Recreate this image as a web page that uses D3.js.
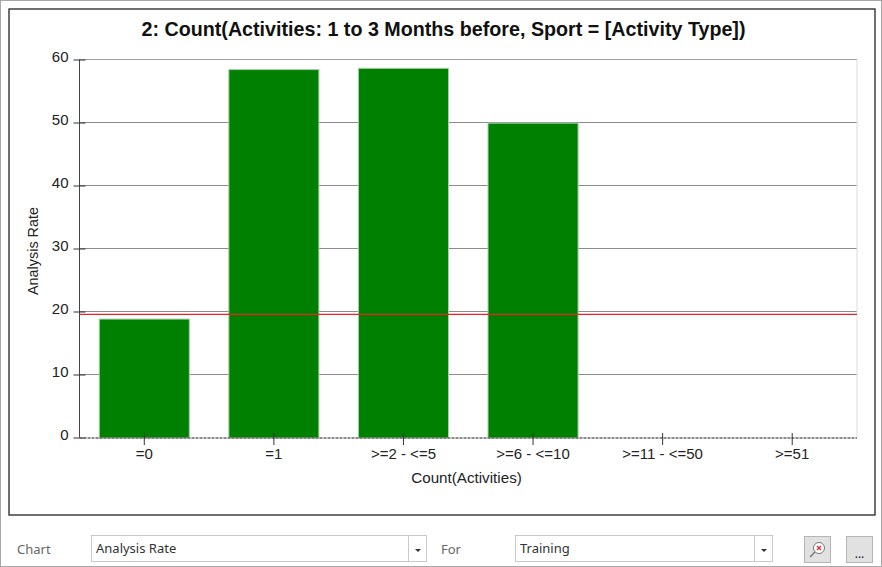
<!DOCTYPE html>
<html><head><meta charset="utf-8">
<script src="https://cdn.jsdelivr.net/npm/d3@7"></script>
<style>html,body{margin:0;padding:0;background:#fff;overflow:hidden}svg{display:block}</style>
</head><body><svg id="c" width="882" height="567"></svg>
<script>
const categories = ["=0","=1",">=2 - <=5",">=6 - <=10",">=11 - <=50",">=51"];
const values = [18.8,58.4,58.6,49.9,0,0];
const yTicks = [0,10,20,30,40,50,60];
const averageRate = 19.55;
const titleText = "2: Count(Activities: 1 to 3 Months before, Sport = [Activity Type])";
const xTitle = "Count(Activities)";
const yTitle = "Analysis Rate";
const chartField = "Analysis Rate";
const forField = "Training";

const svg = d3.select("#c");
const chartFont = "'Liberation Sans',Arial,sans-serif";
const uiFont = "'Noto Sans','Open Sans',sans-serif";
const L=79.5,R=857,T=59.5,B=437.5;
const x = d3.scaleBand().domain(categories).range([L,R]).paddingInner(0.305).paddingOuter(0.1525);
const y = d3.scaleLinear().domain([0,60]).range([B,T]);

// window + chart frame
svg.append("rect").attr("x",0.5).attr("y",0.5).attr("width",881).attr("height",566).attr("fill","#fff").attr("stroke","#a8a8a8");
svg.append("rect").attr("x",9).attr("y",9).attr("width",866).attr("height",506).attr("fill","#fff").attr("stroke","#222").attr("stroke-width",1.3);

// title
svg.append("text").attr("x",443.5).attr("y",36).attr("text-anchor","middle")
  .attr("font-family",chartFont).attr("font-weight","bold").attr("font-size",19.7).attr("fill","#111").text(titleText);

// grid
svg.append("g").selectAll("line").data(yTicks.filter(d=>d>0)).join("line")
  .attr("x1",L).attr("x2",R).attr("y1",d=>Math.floor(y(d))+.5).attr("y2",d=>Math.floor(y(d))+.5)
  .attr("stroke",d=>d===60?"#a0a0a0":"#8c8c8c").attr("stroke-width",1);
svg.append("line").attr("x1",R).attr("x2",R).attr("y1",T).attr("y2",B).attr("stroke","#dcdcdc");

// bars
svg.append("g").selectAll("rect").data(values.map((v,i)=>({c:categories[i],v})).filter(d=>d.v>0)).join("rect")
  .attr("x",d=>x(d.c)).attr("y",d=>y(d.v)).attr("width",x.bandwidth()).attr("height",d=>y(0)-y(d.v)+0.5)
  .attr("fill","#008000").attr("stroke","#a9cfa9").attr("stroke-width",1);

// average line
svg.append("line").attr("x1",L).attr("x2",R).attr("y1",y(averageRate)).attr("y2",y(averageRate))
  .attr("stroke","#f01f24").attr("stroke-width",1.4);

// axes
const yAxis = d3.axisLeft(y).tickValues(yTicks).tickSize(6).tickPadding(5);
const gy = svg.append("g").attr("transform",`translate(${L},0)`).call(yAxis);
gy.select(".domain").attr("stroke","#444").attr("d",`M0,${T}V${B}`);
gy.selectAll(".tick line").attr("stroke","#333").attr("x1",6).attr("x2",-6);
gy.selectAll(".tick text").attr("font-family",chartFont).attr("font-size",15).attr("fill","#222").attr("dy","0.13em").attr("x",-11);

const xAxis = d3.axisBottom(x).tickSize(7).tickPadding(4);
const gx = svg.append("g").attr("transform",`translate(0,${B+0.5})`).call(xAxis);
gx.select(".domain").attr("stroke","#666").attr("stroke-width",1.4).attr("stroke-dasharray","3 1").attr("d",`M${L},0H${R}`);
gx.selectAll(".tick line").attr("stroke","#333").attr("y1",-5).attr("y2",7);
gx.selectAll(".tick text").attr("font-family",chartFont).attr("font-size",15).attr("fill","#222").attr("y",10);

// axis titles
svg.append("text").attr("x",466.5).attr("y",483).attr("text-anchor","middle")
  .attr("font-family",chartFont).attr("font-size",15.2).attr("fill","#222").text(xTitle);
svg.append("text").attr("transform","translate(38,251) rotate(-90)").attr("text-anchor","middle")
  .attr("font-family",chartFont).attr("font-size",14.4).attr("fill","#222").text(yTitle);

// form controls
function label(t,xp){svg.append("text").attr("x",xp).attr("y",554).attr("font-family",uiFont).attr("font-size",13).attr("fill","#666").text(t);}
label("Chart",17); label("For",441);
function combo(x0,x1,t){
  svg.append("rect").attr("x",x0+.5).attr("y",535.5).attr("width",x1-x0).attr("height",26).attr("fill","#fff").attr("stroke","#c8c8c8");
  svg.append("line").attr("x1",x1-17.5).attr("x2",x1-17.5).attr("y1",536).attr("y2",561).attr("stroke","#c8c8c8");
  svg.append("path").attr("d",`M${x1-11},${549}h6l-3,3z`).attr("fill","#333");
  svg.append("text").attr("x",x0+5).attr("y",553).attr("font-family",uiFont).attr("font-size",13).attr("fill","#333").text(t);
}
combo(91,426,chartField); combo(515,772,forField);
function btn(x0){svg.append("rect").attr("x",x0+.5).attr("y",536.5).attr("width",26).attr("height",26).attr("fill","#e1e1e1").attr("stroke","#b5b5b5");}
btn(804); btn(846);
// magnifier icon
svg.append("circle").attr("cx",819).attr("cy",548).attr("r",5.5).attr("fill","#fff").attr("stroke","#777");
svg.append("line").attr("x1",815).attr("y1",552).attr("x2",810).attr("y2",557).attr("stroke","#777").attr("stroke-width",1.5);
svg.append("path").attr("d","M817,546l4,4M821,546l-4,4").attr("stroke","#e5303a").attr("stroke-width",1.4);
svg.append("text").attr("x",859.5).attr("y",558).attr("text-anchor","middle").attr("font-family",uiFont).attr("font-size",12).attr("fill","#223").text("...");
</script></body></html>
